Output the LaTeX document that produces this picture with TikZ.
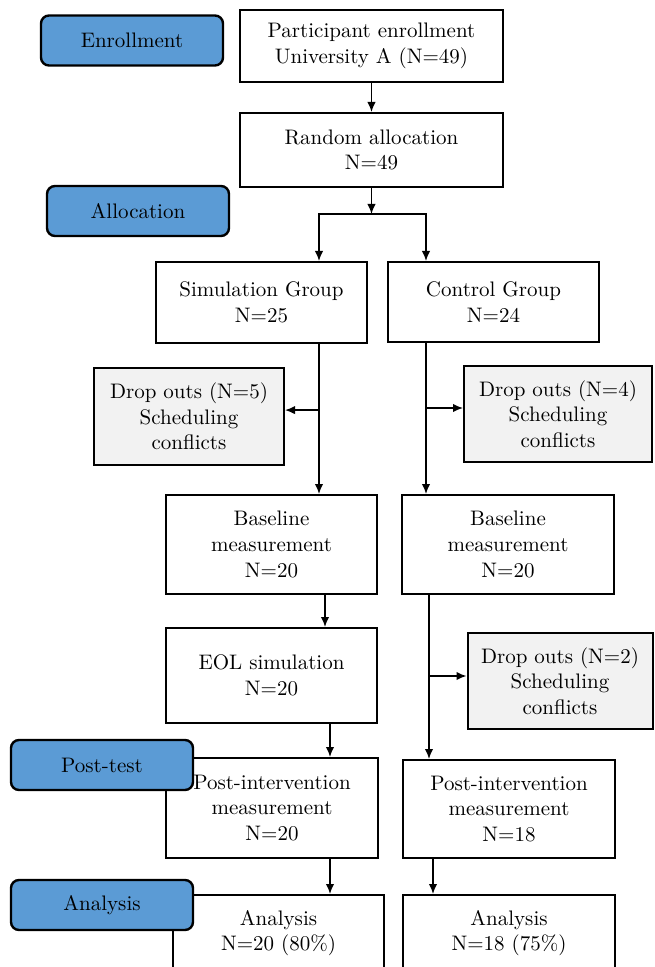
\documentclass[tikz,border=0pt]{standalone}
\usepackage{tikz}
\usetikzlibrary{arrows.meta}

\definecolor{stageblue}{HTML}{5B9BD5}
\definecolor{dropgray}{HTML}{F2F2F2}

\begin{document}
\begin{tikzpicture}[x=0.5pt,y=-0.5pt,
  font=\fontsize{10.5}{12.8}\selectfont,
  box/.style={draw=black,line width=1pt,fill=white,align=center,inner sep=0pt},
  dropbox/.style={box,fill=dropgray},
  stage/.style={draw=black,line width=1.2pt,fill=stageblue,rounded corners=4pt,
    minimum width=91pt,minimum height=25pt,inner sep=0pt},
  arr/.style={-{Latex[length=5pt,width=4.2pt]},line width=0.75pt}]
  \useasboundingbox (0,0) rectangle (654,967);
  %
  \coordinate (lA) at (319,0);
  \coordinate (lB) at (325,0);
  \coordinate (lC) at (330,0);
  \coordinate (rA) at (426,0);
  \coordinate (rB) at (429,0);
  \coordinate (rC) at (433,0);
  %
  \node (part) [box,minimum width=131.5pt,minimum height=36pt] at (371.5,46)
    {Participant enrollment\\University A (N=49)};
  \node (rand) [box,minimum width=131.5pt,minimum height=37pt] at (371.5,150)
    {Random allocation\\N=49};
  \node (enroll) [stage] at (132,40.5) {Enrollment};
  \node (alloc) [stage] at (138,211) {Allocation};
  %
  \node (sim) [box,minimum width=105.5pt,minimum height=40.5pt] at (261.5,302.5)
    {Simulation Group\\N=25};
  \node (ctrl) [box,minimum width=105.5pt,minimum height=40pt] at (493.5,302)
    {Control Group\\N=24};
  %
  \node (drop5) [dropbox,minimum width=95pt,minimum height=48.5pt] at (189,416.5)
    {Drop outs (N=5)\\Scheduling\\conflicts};
  \node (drop4) [dropbox,minimum width=94pt,minimum height=48pt] at (558,414)
    {Drop outs (N=4)\\Scheduling\\conflicts};
  %
  \node (base1) [box,minimum width=105.5pt,minimum height=49.5pt] at (271.5,544.5)
    {Baseline\\measurement\\N=20};
  \node (base2) [box,minimum width=106pt,minimum height=49.5pt] at (508,544.5)
    {Baseline\\measurement\\N=20};
  %
  \node (eol) [box,minimum width=105.5pt,minimum height=47.5pt] at (271.5,675.5)
    {EOL simulation\\N=20};
  \node (drop2) [dropbox,minimum width=92.5pt,minimum height=48pt] at (560,681)
    {Drop outs (N=2)\\Scheduling\\conflicts};
  %
  \node (post1) [box,minimum width=106pt,minimum height=50pt] at (272,808)
    {Post-intervention\\measurement\\N=20};
  \node (post2) [box,minimum width=106pt,minimum height=49pt] at (509,809)
    {Post-intervention\\measurement\\N=18};
  \node (posttest) [stage] at (102,765) {Post-test};
  %
  \node (ana1) [box,minimum width=105.5pt,minimum height=38pt] at (278.5,933)
    {Analysis\\N=20 (80\%)};
  \node (ana2) [box,minimum width=106pt,minimum height=38pt] at (509,933)
    {Analysis\\N=18 (75\%)};
  \node (analysis) [stage] at (102,905) {Analysis};
  %
  \coordinate (split) at (rand.south |- 0,214);
  \draw[arr] (part) -- (rand);
  \draw[arr] (rand) -- (split);
  \draw[arr] (split) -| (sim.north -| lA);
  \draw[arr] (split) -| (ctrl.north -| rA);
  %
  \draw[arr] (sim.south -| lA) -- (base1.north -| lA);
  \draw[arr] ([yshift=3.2pt]drop5.east -| lA) -- ([yshift=3.2pt]drop5.east);
  \draw[arr] (ctrl.south -| rA) -- (base2.north -| rA);
  \draw[arr] ([yshift=3pt]drop4.west -| rA) -- ([yshift=3pt]drop4.west);
  %
  \draw[arr] (base1.south -| lB) -- (eol.north -| lB);
  \draw[arr] (eol.south -| lC) -- (post1.north -| lC);
  \draw[arr] (base2.south -| rB) -- (post2.north -| rB);
  \draw[arr] ([yshift=2.5pt]drop2.west -| rB) -- ([yshift=2.5pt]drop2.west);
  %
  \draw[arr] (post1.south -| lC) -- (ana1.north -| lC);
  \draw[arr] (post2.south -| rC) -- (ana2.north -| rC);
  %
\end{tikzpicture}
\end{document}
